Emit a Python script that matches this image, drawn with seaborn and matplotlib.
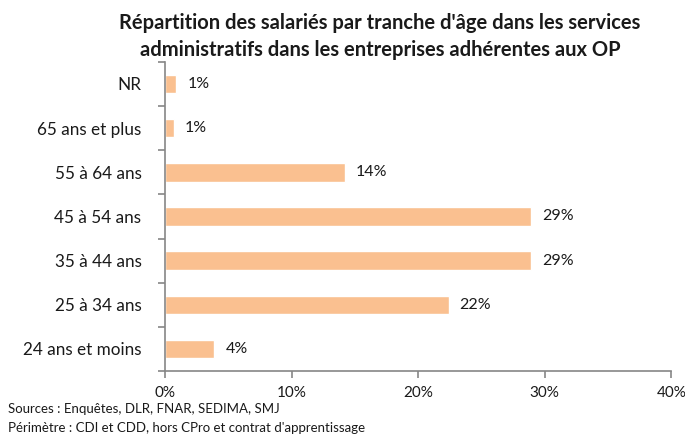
import matplotlib
matplotlib.use("Agg")
import matplotlib.pyplot as plt
import seaborn as sns
import pandas as pd
import numpy as np
from matplotlib.ticker import FixedLocator, PercentFormatter

categories = ["NR", "65 ans et plus", "55 à 64 ans", "45 à 54 ans",
              "35 à 44 ans", "25 à 34 ans", "24 ans et moins"]
values = [0.9, 0.7, 14.2, 28.9, 28.9, 22.4, 3.9]
labels = ["1%", "1%", "14%", "29%", "29%", "22%", "4%"]
xticks = [0, 10, 20, 30, 40]

sns.set_theme(style="white")
plt.rcParams['font.family'] = ['Lato', 'DejaVu Sans']

df = pd.DataFrame({"cat": categories, "val": values})

fig = plt.figure(figsize=(6.85, 4.36), dpi=100)
ax = fig.add_axes([0.241, 0.149, 0.739, 0.709])
sns.barplot(data=df, y="cat", x="val", orient="h", color="#FAC090",
            saturation=1, width=0.42, ax=ax)

ax.set_xlim(0, 40)
ax.set_ylim(6.5, -0.5)
ax.set_xticks(xticks)
ax.xaxis.set_major_formatter(PercentFormatter(decimals=0))
ax.set_xlabel("")
ax.set_ylabel("")

for s in ["top", "right"]:
    ax.spines[s].set_visible(False)
for s in ["left", "bottom"]:
    ax.spines[s].set_color("#868686")
    ax.spines[s].set_linewidth(1.2)

ax.tick_params(axis="y", which="major", length=0, labelsize=12.3, pad=17, colors="#1a1a1a")
ax.yaxis.set_minor_locator(FixedLocator(np.arange(-0.5, 7.0, 1.0)))
ax.tick_params(axis="y", which="minor", left=True, length=5, width=1.2, color="#868686", direction="out")
ax.tick_params(axis="x", which="major", bottom=True, length=5, width=1.2, color="#868686",
               direction="out", labelsize=11, pad=6, labelcolor="#1a1a1a")

for c, lab in zip(ax.containers, [labels]):
    ax.bar_label(c, labels=lab, padding=8, fontsize=11.5, color="#1a1a1a")

fig.text(0.555, 0.97, "Répartition des salariés par tranche d'âge dans les services\nadministratifs dans les entreprises adhérentes aux OP",
         ha="center", va="top", fontsize=14.5, fontweight="bold", linespacing=1.45, color="#1a1a1a")
fig.text(0.012, 0.063, "Sources : Enquêtes, DLR, FNAR, SEDIMA, SMJ", ha="left", va="center", fontsize=9.5, color="#1a1a1a")
fig.text(0.012, 0.018, "Périmètre : CDI et CDD, hors CPro et contrat d'apprentissage", ha="left", va="center", fontsize=9.5, color="#1a1a1a")

fig.savefig("out.png", dpi=100)
